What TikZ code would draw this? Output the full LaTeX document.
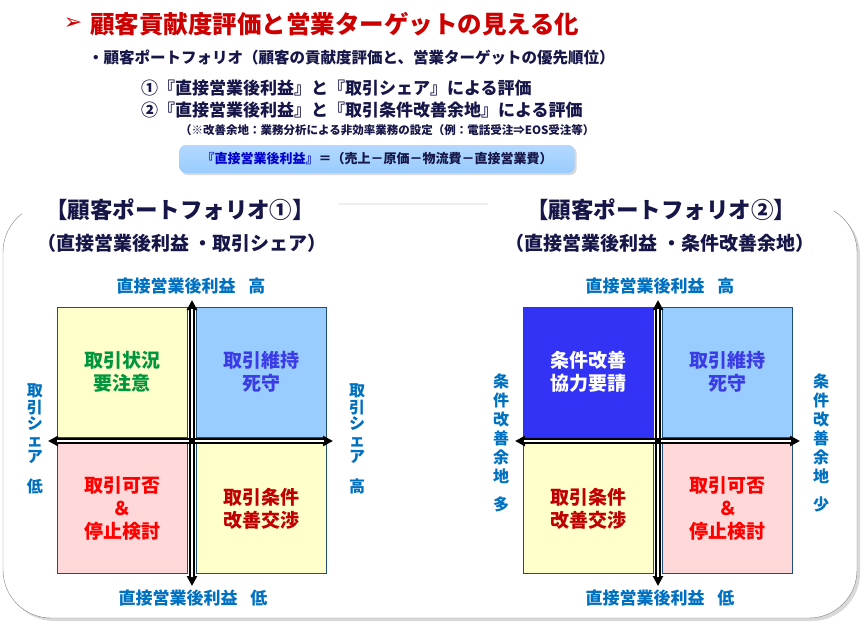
\documentclass[tikz,border=0pt]{standalone}
\usepackage{fontspec}
\setmainfont{Noto Sans CJK JP}
\newfontfamily\symfont{DejaVu Sans}
\usetikzlibrary{arrows.meta,shadows}
\definecolor{titlered}{RGB}{204,0,0}
\definecolor{textnavy}{RGB}{22,22,72}
\definecolor{axisblue}{RGB}{0,112,192}
\definecolor{quadline}{RGB}{31,78,121}
\definecolor{qyellow}{RGB}{255,255,204}
\definecolor{qblue}{RGB}{153,204,255}
\definecolor{qpink}{RGB}{255,217,217}
\definecolor{qdeep}{RGB}{51,51,245}
\definecolor{tgreen}{RGB}{0,150,60}
\definecolor{tviolet}{RGB}{60,60,230}
\definecolor{tdarkred}{RGB}{192,0,0}

\begin{document}
\begin{tikzpicture}[x=1pt,y=-1pt]
\tikzstyle{every node}=[font=\bfseries, inner sep=0pt, text=textnavy]
\tikzstyle{quad}=[draw=quadline, line width=0.8pt, minimum width=130pt,
  minimum height=130pt, align=center, font=\bfseries\fontsize{19}{23}\selectfont]
\tikzstyle{axislabel}=[text=axisblue, font=\bfseries\fontsize{17}{18}\selectfont]
\tikzstyle{sidelabel}=[text=axisblue, align=center]
\tikzstyle{axisarrow}=[line width=5.6pt,
  {Triangle[length=10pt,width=10pt]}-{Triangle[length=10pt,width=10pt]}]
\tikzstyle{axiscore}=[white, line width=1.7pt, shorten >=9pt, shorten <=9pt]
\useasboundingbox (0,0) rectangle (867,629);

% heading
\node[text=titlered, font=\symfont\fontsize{22}{22}\selectfont] (bullet) at (73,24) {➢};
\node[anchor=west, text=titlered, font=\bfseries\fontsize{24.5}{26}\selectfont] (head) at (90,24)
  {顧客貢献度評価と営業ターゲットの見える化};
\node[anchor=west, font=\bfseries\fontsize{15.5}{17}\selectfont] (sub) at (88,58)
  {・顧客ポートフォリオ（顧客の貢献度評価と、営業ターゲットの優先順位）};
\node[anchor=west, font=\bfseries\fontsize{17}{19}\selectfont] (one) at (141,88)
  {①『直接営業後利益』と『取引シェア』による評価};
\node[anchor=west, font=\bfseries\fontsize{17}{19}\selectfont] (two) at (141,110)
  {②『直接営業後利益』と『取引条件改善余地』による評価};
\node[anchor=west, font=\bfseries\fontsize{11.5}{13}\selectfont] (note) at (180,130)
  {（※改善余地：業務分析による非効率業務の設定（例：電話受注⇒EOS受注等）};
\node[rounded corners=6pt, top color=qblue!75, bottom color=qblue, minimum width=395pt,
  minimum height=28pt, drop shadow={shadow xshift=2pt, shadow yshift=-2pt, opacity=.3},
  font=\bfseries\fontsize{13}{15}\selectfont] (formula) at (377,159)
  {\textcolor{blue!80!black}{『直接営業後利益』}＝（売上－原価－物流費－直接営業費）};

% panel
\draw[gray, rounded corners=48pt, fill=white,
  drop shadow={shadow xshift=3pt, shadow yshift=-3pt, opacity=.3}] (3,204) rectangle (857,618);
\node[fill=white, minimum width=316pt, minimum height=24pt, font=\bfseries\fontsize{22.5}{24}\selectfont]
  (titleA) at (180,210) {【顧客ポートフォリオ①】};
\node[fill=white, minimum width=346pt, minimum height=24pt, font=\bfseries\fontsize{22.5}{24}\selectfont]
  (titleB) at (661,210) {【顧客ポートフォリオ②】};
\node[font=\bfseries\fontsize{19}{20}\selectfont] (subA) at (182,243) {（直接営業後利益\ ・取引シェア）};
\node[font=\bfseries\fontsize{19}{20}\selectfont] (subB) at (660,243) {（直接営業後利益\ ・条件改善余地）};

% portfolio 1
\node[quad, fill=qyellow, text=tgreen] (a11) at (122,372) {取引状況\\要注意};
\node[quad, fill=qblue, text=tviolet] (a12) at (261.5,372) {取引維持\\死守};
\node[quad, fill=qpink, text=red] (a21) at (122,508.5) {取引可否\\＆\\停止検討};
\node[quad, fill=qyellow, text=tdarkred] (a22) at (261.5,508.5) {取引条件\\改善交渉};
\coordinate (aN) at (192,300);
\coordinate (aS) at (192,586);
\coordinate (aW) at (48,441);
\coordinate (aE) at (333,441);
\draw[axisarrow] (aN) -- (aS);
\draw[axisarrow] (aW) -- (aE);
\draw[axiscore] (aN) -- (aS);
\draw[axiscore] (aW) -- (aE);
\fill (189.2,438.2) rectangle (194.8,443.8);
\node[axislabel] (aHi) at (191,286) {直接営業後利益\hspace{13pt}高};
\node[axislabel] (aLo) at (193,598) {直接営業後利益\hspace{13pt}低};
\node[sidelabel, font=\bfseries\fontsize{16}{16.5}\selectfont] (aL) at (35,439)
  {取\\引\\シ\\ェ\\ア\\[13pt]低};
\node[sidelabel, font=\bfseries\fontsize{16}{16.5}\selectfont] (aR) at (357,439)
  {取\\引\\シ\\ェ\\ア\\[13pt]高};

% portfolio 2
\node[quad, fill=qdeep, text=white] (b11) at (588,372) {条件改善\\協力要請};
\node[quad, fill=qblue, text=tviolet] (b12) at (727.5,372) {取引維持\\死守};
\node[quad, fill=qyellow, text=tdarkred] (b21) at (588,508.5) {取引条件\\改善交渉};
\node[quad, fill=qpink, text=red] (b22) at (727.5,508.5) {取引可否\\＆\\停止検討};
\coordinate (bN) at (658,300);
\coordinate (bS) at (658,586);
\coordinate (bW) at (515,441);
\coordinate (bE) at (800,441);
\draw[axisarrow] (bN) -- (bS);
\draw[axisarrow] (bW) -- (bE);
\draw[axiscore] (bN) -- (bS);
\draw[axiscore] (bW) -- (bE);
\fill (655.2,438.2) rectangle (660.8,443.8);
\node[axislabel] (bHi) at (660,286) {直接営業後利益\hspace{13pt}高};
\node[axislabel] (bLo) at (660,598) {直接営業後利益\hspace{13pt}低};
\node[sidelabel, font=\bfseries\fontsize{16}{19}\selectfont] (bL) at (501,443)
  {条\\件\\改\\善\\余\\地\\[9pt]多};
\node[sidelabel, font=\bfseries\fontsize{16}{19}\selectfont] (bR) at (821,443)
  {条\\件\\改\\善\\余\\地\\[9pt]少};
\end{tikzpicture}
\end{document}
